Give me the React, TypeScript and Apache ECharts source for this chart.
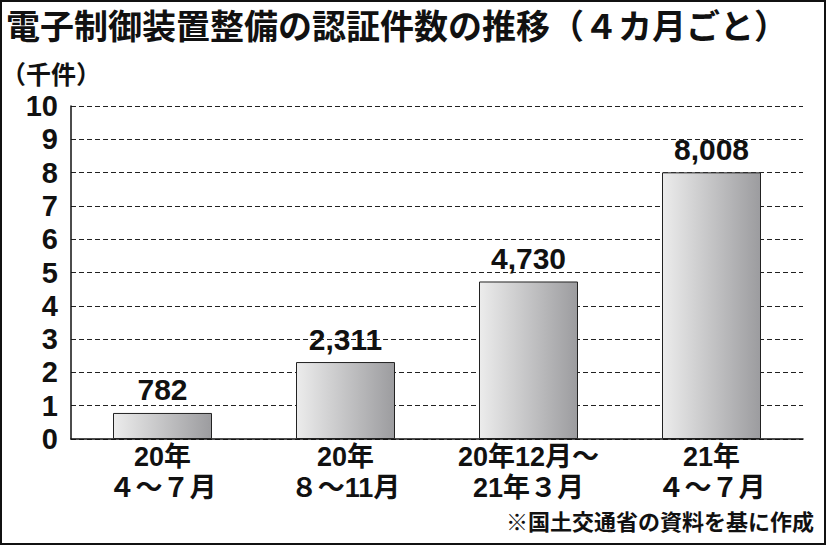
import React, { useEffect, useRef } from "react";
import * as echarts from "echarts";

const categories = ["20年\n４～７月", "20年\n８～11月", "20年12月～\n21年３月", "21年\n４～７月"];
const counts = [782, 2311, 4730, 8008];
const yTicks = [0, 1, 2, 3, 4, 5, 6, 7, 8, 9, 10];
const titleText = "電子制御装置整備の認証件数の推移（４カ月ごと）";
const unitText = "（千件）";
const sourceText = "※国土交通省の資料を基に作成";

const NUM_FONT = "'Liberation Sans', 'Noto Sans CJK JP', sans-serif";
const JP_FONT = "'Noto Sans CJK JP', sans-serif";

export default function App() {
  const ref = useRef<HTMLDivElement>(null);
  useEffect(() => {
    if (!ref.current) return;
    const chart = echarts.init(ref.current, null, { renderer: "svg" });
    chart.setOption({
      animation: false,
      backgroundColor: "#ffffff",
      grid: { left: 71, right: 23, top: 106, bottom: 106, containLabel: false },
      xAxis: {
        type: "category",
        data: categories,
        axisLine: { show: true, lineStyle: { color: "#111", width: 1.5 } },
        axisTick: { show: false },
        axisLabel: {
          interval: 0,
          margin: 2,
          color: "#111",
          fontFamily: NUM_FONT,
          fontWeight: "bold",
          fontSize: 27,
          lineHeight: 31,
        },
      },
      yAxis: {
        type: "value",
        min: 0,
        max: yTicks[yTicks.length - 1] * 1000,
        interval: 1000,
        axisLine: { show: true, lineStyle: { color: "#111", width: 1.5 } },
        axisTick: { show: false },
        splitLine: { show: true, lineStyle: { color: "#222", type: [5, 3], width: 1 } },
        axisLabel: {
          margin: 13,
          color: "#111",
          fontFamily: "'Liberation Sans', sans-serif",
          fontWeight: "bold",
          fontSize: 29,
          formatter: (v: number) => String(v / 1000),
        },
      },
      series: [
        {
          type: "bar",
          data: counts,
          barWidth: 99,
          itemStyle: {
            borderColor: "#222",
            borderWidth: 1,
            color: new echarts.graphic.LinearGradient(0, 0, 1, 0, [
              { offset: 0, color: "#ececec" },
              { offset: 1, color: "#9c9c9f" },
            ]),
          },
          label: {
            show: true,
            position: "top",
            distance: 8,
            color: "#111",
            fontFamily: "'Liberation Sans', sans-serif",
            fontWeight: "bold",
            fontSize: 30,
            formatter: (p: any) => Number(p.value).toLocaleString("en-US"),
          },
        },
      ],
      graphic: [
        {
          type: "rect",
          shape: { x: 1, y: 1, width: 824, height: 543 },
          style: { fill: "none", stroke: "#111", lineWidth: 2 },
          silent: true,
        },
        {
          type: "text",
          left: 6,
          top: 7,
          style: {
            text: titleText,
            font: `bold 34px ${JP_FONT}`,
            fill: "#111",
          },
        },
        {
          type: "text",
          left: 1,
          top: 60,
          style: {
            text: unitText,
            font: `bold 25px ${JP_FONT}`,
            fill: "#111",
          },
        },
        {
          type: "text",
          right: 12,
          top: 509,
          style: {
            text: sourceText,
            font: `bold 22px ${JP_FONT}`,
            fill: "#111",
          },
        },
      ],
    });
    return () => chart.dispose();
  }, []);
  return (
    <div
      ref={ref}
      style={{ position: "absolute", left: 0, top: 0, width: 826, height: 545 }}
    />
  );
}
